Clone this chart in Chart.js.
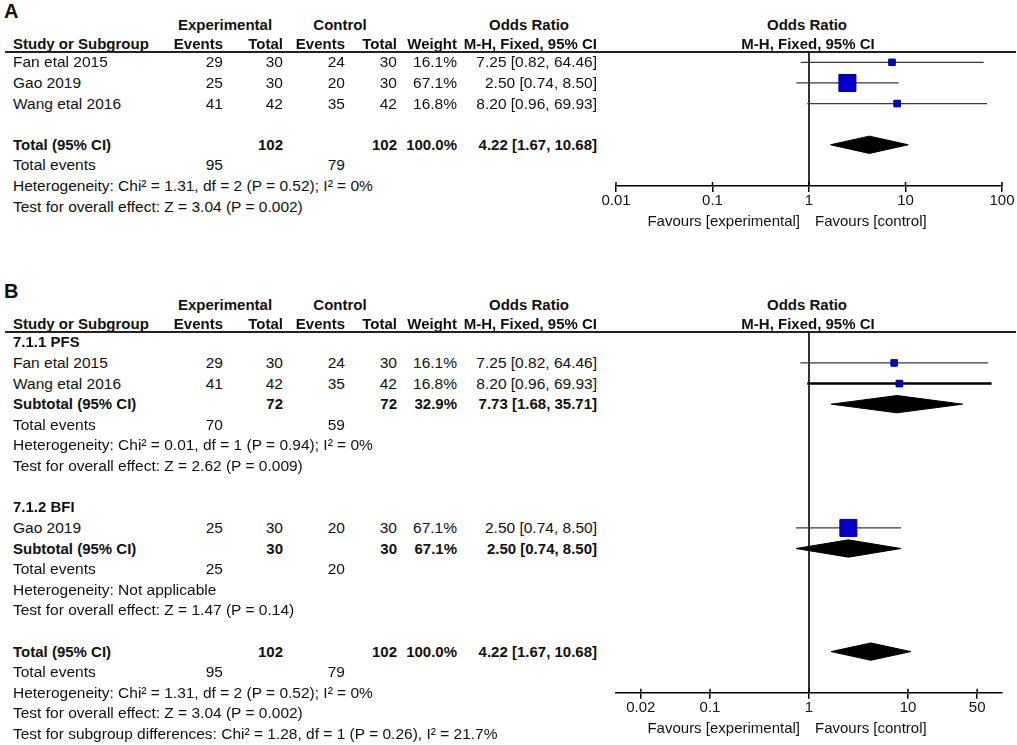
<!DOCTYPE html>
<html lang="en">
<head>
<meta charset="UTF-8">
<title>Forest plot</title>
<script src="https://cdn.jsdelivr.net/npm/chart.js"></script>
<style>
  body { margin: 0; background: #fff; }
  #page { position: relative; width: 1017px; height: 745px; overflow: hidden;
          font-family: "Liberation Sans", Arial, sans-serif; font-size: 15.5px; color: #111; }
  .t { position: absolute; white-space: nowrap; line-height: 20px; height: 20px; }
  .b { font-weight: bold; font-size: 15px; }
  .letter { font-size: 20px; font-weight: bold; }
  .rule { position: absolute; left: 5px; width: 1011px; height: 2px; background: #222; }
  .plot { position: absolute; left: 600px; width: 417px; }
</style>
</head>
<body>
<div id="page"></div>

<script>
    // ---- panel A : all studies ----
    const studiesA = ['Fan etal 2015', 'Gao 2019', 'Wang etal 2016'];
    const expEventsA = [29, 25, 41];
    const expTotalA = [30, 30, 42];
    const ctrlEventsA = [24, 20, 35];
    const ctrlTotalA = [30, 30, 42];
    const weightA = [16.1, 67.1, 16.8];
    const orA = [7.25, 2.50, 8.20];
    const lowA = [0.82, 0.74, 0.96];
    const highA = [64.46, 8.50, 69.93];

    // pooled estimate: or, low, high, totals, weight, events
    const totalOR = [4.22, 1.67, 10.68];
    const totalN = [102, 102];
    const totalEvents = [95, 79];
    const totalWeight = 100.0;
    const hetTotal = 'Heterogeneity: Chi² = 1.31, df = 2 (P = 0.52); I² = 0%';
    const effTotal = 'Test for overall effect: Z = 3.04 (P = 0.002)';

    // ---- panel B : subgroups ----
    const studiesPFS = ['Fan etal 2015', 'Wang etal 2016'];
    const expEventsPFS = [29, 41];
    const expTotalPFS = [30, 42];
    const ctrlEventsPFS = [24, 35];
    const ctrlTotalPFS = [30, 42];
    const weightPFS = [16.1, 16.8];
    const orPFS = [7.25, 8.20];
    const lowPFS = [0.82, 0.96];
    const highPFS = [64.46, 69.93];
    const subPFS_OR = [7.73, 1.68, 35.71];
    const subPFS_N = [72, 72];
    const subPFS_events = [70, 59];
    const subPFS_weight = 32.9;
    const hetPFS = 'Heterogeneity: Chi² = 0.01, df = 1 (P = 0.94); I² = 0%';
    const effPFS = 'Test for overall effect: Z = 2.62 (P = 0.009)';

    const studiesBFI = ['Gao 2019'];
    const expEventsBFI = [25];
    const expTotalBFI = [30];
    const ctrlEventsBFI = [20];
    const ctrlTotalBFI = [30];
    const weightBFI = [67.1];
    const orBFI = [2.50];
    const lowBFI = [0.74];
    const highBFI = [8.50];
    const subBFI_OR = [2.50, 0.74, 8.50];
    const subBFI_N = [30, 30];
    const subBFI_events = [25, 20];
    const subBFI_weight = 67.1;
    const hetBFI = 'Heterogeneity: Not applicable';
    const effBFI = 'Test for overall effect: Z = 1.47 (P = 0.14)';
    const subgroupDiff = 'Test for subgroup differences: Chi² = 1.28, df = 1 (P = 0.26), I² = 21.7%';

    const ticksA = [0.01, 0.1, 1, 10, 100];
    const ticksB = [0.02, 0.1, 1, 10, 50];
    const favoursLeft = 'Favours [experimental]';
    const favoursRight = 'Favours [control]';

    // ---- layout ----
    const W = 1017;
    const ROW = 20.62;
    const FONT = '"Liberation Sans", Arial, sans-serif';
    const col = { label: 13, expEv: 223, expTot: 283, ctlEv: 345, ctlTot: 397, weight: 457, or: 597 };
    const page = document.getElementById('page');

    function put(text, x, y, align, cls) {
        const d = document.createElement('div');
        d.className = 't ' + (cls || '');
        d.textContent = text;
        d.style.top = (y - 10) + 'px';
        if (align === 'r') {
            d.style.right = (W - x) + 'px';
        } else if (align === 'c') {
            d.style.left = (x - 150) + 'px';
            d.style.width = '300px';
            d.style.textAlign = 'center';
        } else {
            d.style.left = x + 'px';
        }
        page.appendChild(d);
    }

    function orText(o, l, h) {
        return `${o.toFixed(2)} [${l.toFixed(2)}, ${h.toFixed(2)}]`;
    }

    function header(letter, rule) {
        put(letter, 4, rule - 41, 'l', 'letter');
        put('Experimental', 225, rule - 27, 'c', 'b');
        put('Control', 340, rule - 27, 'c', 'b');
        put('Odds Ratio', 529, rule - 27, 'c', 'b');
        put('Odds Ratio', 807, rule - 27, 'c', 'b');
        put('Study or Subgroup', col.label, rule - 8, 'l', 'b');
        put('Events', col.expEv, rule - 8, 'r', 'b');
        put('Total', col.expTot, rule - 8, 'r', 'b');
        put('Events', col.ctlEv, rule - 8, 'r', 'b');
        put('Total', col.ctlTot, rule - 8, 'r', 'b');
        put('Weight', col.weight, rule - 8, 'r', 'b');
        put('M-H, Fixed, 95% CI', col.or, rule - 8, 'r', 'b');
        put('M-H, Fixed, 95% CI', 808, rule - 8, 'c', 'b');
        const r = document.createElement('div');
        r.className = 'rule';
        r.style.top = (rule - 1) + 'px';
        page.appendChild(r);
    }

    function rowY(rule, row) { return rule + (row + 0.5) * ROW; }

    function studyRows(rule, firstRow, names, ee, et, ce, ct, w, o, l, h) {
        names.forEach((n, i) => {
            const y = rowY(rule, firstRow + i);
            put(n, col.label, y, 'l');
            put(String(ee[i]), col.expEv, y, 'r');
            put(String(et[i]), col.expTot, y, 'r');
            put(String(ce[i]), col.ctlEv, y, 'r');
            put(String(ct[i]), col.ctlTot, y, 'r');
            put(w[i].toFixed(1) + '%', col.weight, y, 'r');
            put(orText(o[i], l[i], h[i]), col.or, y, 'r');
        });
    }

    function pooledRows(rule, row, label, n, w, est, events, het, eff) {
        let y = rowY(rule, row);
        put(label, col.label, y, 'l', 'b');
        put(String(n[0]), col.expTot, y, 'r', 'b');
        put(String(n[1]), col.ctlTot, y, 'r', 'b');
        put(w.toFixed(1) + '%', col.weight, y, 'r', 'b');
        put(orText(est[0], est[1], est[2]), col.or, y, 'r', 'b');
        y = rowY(rule, row + 1);
        put('Total events', col.label, y, 'l');
        put(String(events[0]), col.expEv, y, 'r');
        put(String(events[1]), col.ctlEv, y, 'r');
        put(het, col.label, rowY(rule, row + 2), 'l');
        put(eff, col.label, rowY(rule, row + 3), 'l');
    }

    // ---- forest plot drawn by Chart.js ----
    const axisExtras = {
        id: 'axisExtras',
        afterDraw(chart) {
            const { ctx, chartArea } = chart;
            const x = chart.scales.x;
            const y0 = chartArea.bottom;
            ctx.save();
            ctx.strokeStyle = '#000';
            ctx.lineWidth = 1.5;
            x.ticks.forEach(t => {
                const px = x.getPixelForValue(t.value);
                ctx.beginPath();
                ctx.moveTo(px, y0 - 4);
                ctx.lineTo(px, y0);
                ctx.stroke();
            });
            const one = x.getPixelForValue(1);
            ctx.font = '15px ' + FONT;
            ctx.fillStyle = '#111';
            ctx.textBaseline = 'middle';
            ctx.textAlign = 'right';
            ctx.fillText(favoursLeft, one - 9, y0 + 36);
            ctx.textAlign = 'left';
            ctx.fillText(favoursRight, one + 6, y0 + 36);
            ctx.restore();
        }
    };

    function boxSide(w) { return 3.2 + 0.206 * w; }

    function forest(rule, height, rowMax, xMin, xMax, tickVals, studies, pooled, thick) {
        const box = document.createElement('div');
        box.className = 'plot';
        box.style.top = rule + 'px';
        box.style.height = height + 'px';
        const cv = document.createElement('canvas');
        box.appendChild(cv);
        page.insertBefore(box, page.firstChild);

        const areaBottom = (rowMax + 0.5) * ROW;
        const datasets = [];

        datasets.push({
            data: studies.map(s => ({ x: s.or, y: s.row })),
            pointStyle: 'rect',
            pointRadius: studies.map(s => boxSide(s.w) / Math.SQRT2),
            pointBackgroundColor: '#0000C8',
            pointBorderColor: '#00007A',
            pointBorderWidth: 1,
            showLine: false
        });
        studies.forEach((s, i) => {
            datasets.push({
                data: [{ x: s.low, y: s.row }, { x: s.high, y: s.row }],
                showLine: true,
                borderColor: thick[i] ? '#000' : '#3a3a3a',
                borderWidth: thick[i] || 1.2,
                pointRadius: 0
            });
        });
        pooled.forEach(p => {
            const hh = 0.42;
            datasets.push({
                data: [{ x: p.low, y: p.row }, { x: p.est, y: p.row - hh },
                       { x: p.high, y: p.row }, { x: p.est, y: p.row + hh },
                       { x: p.low, y: p.row }],
                showLine: true,
                fill: 'shape',
                backgroundColor: '#000',
                borderColor: '#000',
                borderWidth: 1,
                pointRadius: 0,
                tension: 0
            });
        });
        datasets.push({
            data: [{ x: 1, y: -0.5 }, { x: 1, y: rowMax }],
            showLine: true,
            borderColor: '#000',
            borderWidth: 1.6,
            pointRadius: 0
        });

        new Chart(cv, {
            type: 'scatter',
            data: { datasets },
            options: {
                responsive: true,
                maintainAspectRatio: false,
                animation: false,
                events: [],
                layout: { autoPadding: false, padding: { left: 16, right: 15, top: 0, bottom: 0 } },
                plugins: { legend: { display: false }, tooltip: { enabled: false } },
                scales: {
                    x: {
                        type: 'logarithmic',
                        min: xMin,
                        max: xMax,
                        position: 'bottom',
                        afterBuildTicks: s => { s.ticks = tickVals.map(v => ({ value: v })); },
                        afterFit: s => { s.height = height - areaBottom; },
                        ticks: {
                            callback: v => String(v),
                            autoSkip: false,
                            maxRotation: 0,
                            padding: 0,
                            color: '#111',
                            font: { family: FONT, size: 15 }
                        },
                        grid: { drawOnChartArea: false, drawTicks: true, tickLength: 6, color: '#000', lineWidth: 1.5 },
                        border: { display: true, color: '#000', width: 1.5 }
                    },
                    y: { type: 'linear', reverse: true, min: -0.5, max: rowMax, display: false }
                }
            },
            plugins: [axisExtras]
        });
    }

    function asStudies(firstRow, w, o, l, h) {
        return o.map((v, i) => ({ row: firstRow + i, w: w[i], or: v, low: l[i], high: h[i] }));
    }

    // ---- panel A ----
    const ruleA = 52;
    header('A', ruleA);
    studyRows(ruleA, 0, studiesA, expEventsA, expTotalA, ctrlEventsA, ctrlTotalA, weightA, orA, lowA, highA);
    pooledRows(ruleA, 4, 'Total (95% CI)', totalN, totalWeight, totalOR, totalEvents, hetTotal, effTotal);
    forest(ruleA, 190, 6, 0.01, 100, ticksA,
        asStudies(0, weightA, orA, lowA, highA),
        [{ row: 4, est: totalOR[0], low: totalOR[1], high: totalOR[2] }],
        {});

    // ---- panel B ----
    const ruleB = 332;
    header('B', ruleB);
    put('7.1.1 PFS', col.label, rowY(ruleB, 0), 'l', 'b');
    studyRows(ruleB, 1, studiesPFS, expEventsPFS, expTotalPFS, ctrlEventsPFS, ctrlTotalPFS, weightPFS, orPFS, lowPFS, highPFS);
    pooledRows(ruleB, 3, 'Subtotal (95% CI)', subPFS_N, subPFS_weight, subPFS_OR, subPFS_events, hetPFS, effPFS);
    put('7.1.2 BFI', col.label, rowY(ruleB, 8), 'l', 'b');
    studyRows(ruleB, 9, studiesBFI, expEventsBFI, expTotalBFI, ctrlEventsBFI, ctrlTotalBFI, weightBFI, orBFI, lowBFI, highBFI);
    pooledRows(ruleB, 10, 'Subtotal (95% CI)', subBFI_N, subBFI_weight, subBFI_OR, subBFI_events, hetBFI, effBFI);
    pooledRows(ruleB, 15, 'Total (95% CI)', totalN, totalWeight, totalOR, totalEvents, hetTotal, effTotal);
    put(subgroupDiff, col.label, rowY(ruleB, 19), 'l');

    const decB = 1.95;
    forest(ruleB, 413, 17, Math.pow(10, -decB), Math.pow(10, decB), ticksB,
        asStudies(1, weightPFS, orPFS, lowPFS, highPFS).concat(asStudies(9, weightBFI, orBFI, lowBFI, highBFI)),
        [{ row: 3, est: subPFS_OR[0], low: subPFS_OR[1], high: subPFS_OR[2] },
         { row: 10, est: subBFI_OR[0], low: subBFI_OR[1], high: subBFI_OR[2] },
         { row: 15, est: totalOR[0], low: totalOR[1], high: totalOR[2] }],
        { 1: 2.5 });
</script>
</body>
</html>
